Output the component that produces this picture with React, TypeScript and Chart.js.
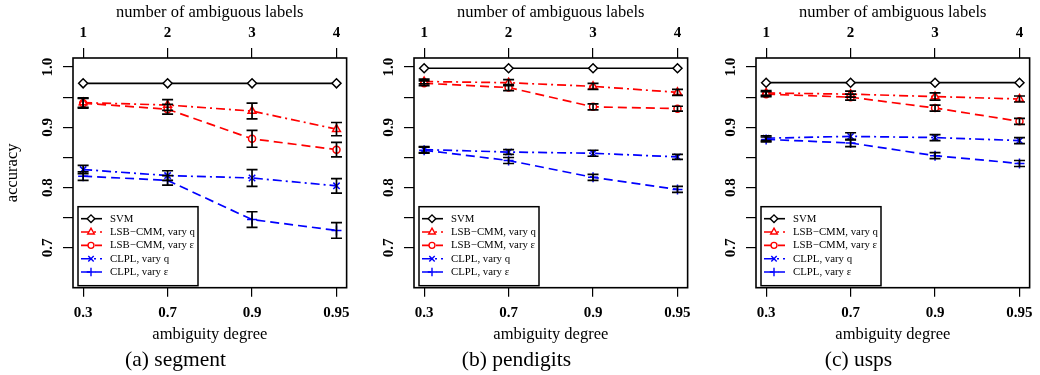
import React, { useEffect, useRef } from 'react';
import { Chart, registerables } from 'chart.js';
import { drawPoint } from 'chart.js/helpers';

Chart.register(...registerables);

const SERIF = '"Liberation Serif", "Times New Roman", serif';
Chart.defaults.font.family = SERIF;
Chart.defaults.color = '#000';

// ---- categories / tick labels ----
const degreeLabels = ['0.3', '0.7', '0.9', '0.95'];
const ambiguousLabels = ['1', '2', '3', '4'];
const yTickValues = [0.7, 0.75, 0.8, 0.85, 0.9, 0.95, 1.0];
const seriesNames = ['SVM', 'LSB\u2212CMM, vary q', 'LSB\u2212CMM, vary \u03b5', 'CLPL, vary q', 'CLPL, vary \u03b5'];
const captions = ['(a) segment', '(b) pendigits', '(c) usps'];

// ---- (a) segment ----
const segSvm = [0.973, 0.973, 0.973, 0.973];
const segLsbQ = [0.941, 0.937, 0.927, 0.897];
const segLsbE = [0.94, 0.93, 0.881, 0.863];
const segClplQ = [0.83, 0.82, 0.816, 0.803];
const segClplE = [0.819, 0.812, 0.747, 0.729];
const segLsbQErr = [0.008, 0.009, 0.013, 0.011];
const segLsbEErr = [0.008, 0.008, 0.014, 0.012];
const segClplQErr = [0.007, 0.008, 0.014, 0.012];
const segClplEErr = [0.007, 0.008, 0.013, 0.013];

// ---- (b) pendigits ----
const penSvm = [0.998, 0.998, 0.998, 0.998];
const penLsbQ = [0.976, 0.974, 0.968, 0.958];
const penLsbE = [0.973, 0.966, 0.934, 0.931];
const penClplQ = [0.863, 0.859, 0.857, 0.851];
const penClplE = [0.862, 0.845, 0.817, 0.797];
const penLsbQErr = [0.004, 0.005, 0.005, 0.005];
const penLsbEErr = [0.004, 0.005, 0.005, 0.004];
const penClplQErr = [0.005, 0.004, 0.005, 0.004];
const penClplEErr = [0.005, 0.005, 0.005, 0.005];

// ---- (c) usps ----
const uspSvm = [0.974, 0.974, 0.974, 0.974];
const uspLsbQ = [0.957, 0.955, 0.951, 0.947];
const uspLsbE = [0.955, 0.95, 0.932, 0.91];
const uspClplQ = [0.882, 0.885, 0.883, 0.878];
const uspClplE = [0.88, 0.874, 0.853, 0.84];
const uspLsbQErr = [0.004, 0.005, 0.006, 0.005];
const uspLsbEErr = [0.004, 0.005, 0.005, 0.005];
const uspClplQErr = [0.004, 0.006, 0.005, 0.005];
const uspClplEErr = [0.004, 0.006, 0.005, 0.005];

const noErr = [0, 0, 0, 0];

const panelValues = [
  [segSvm, segLsbQ, segLsbE, segClplQ, segClplE],
  [penSvm, penLsbQ, penLsbE, penClplQ, penClplE],
  [uspSvm, uspLsbQ, uspLsbE, uspClplQ, uspClplE],
];
const panelErrors = [
  [noErr, segLsbQErr, segLsbEErr, segClplQErr, segClplEErr],
  [noErr, penLsbQErr, penLsbEErr, penClplQErr, penClplEErr],
  [noErr, uspLsbQErr, uspLsbEErr, uspClplQErr, uspClplEErr],
];

const DASHED = [9, 5];
const DASHDOT = [9, 4, 2, 4];
const seriesStyles = [
  { color: '#000000', dash: [] as number[], point: 'rectRot', radius: 4.5 },
  { color: '#ff0000', dash: DASHDOT, point: 'triangle', radius: 4.5 },
  { color: '#ff0000', dash: DASHED, point: 'circle', radius: 3.5 },
  { color: '#0000ff', dash: DASHDOT, point: 'crossRot', radius: 4.5 },
  { color: '#0000ff', dash: DASHED, point: 'cross', radius: 5 },
];

const CANVAS_W = 357;
const CANVAS_H = 375;
const panelLeft = [0, 341, 683];

const X_MIN = 1 - 0.12;
const X_MAX = 4 + 0.12;
const Y_MIN = 0.634;
const Y_MAX = 1.015;

const decorPlugin = {
  id: 'decor',
  afterDatasetsDraw(chart: any) {
    const ctx = chart.ctx;
    const ys = chart.scales.y;
    chart.data.datasets.forEach((ds: any, di: number) => {
      const meta = chart.getDatasetMeta(di);
      meta.data.forEach((pt: any, i: number) => {
        const e = ds.errors[i];
        if (!e) return;
        const v = ds.data[i].y;
        const y1 = ys.getPixelForValue(v + e);
        const y2 = ys.getPixelForValue(v - e);
        ctx.save();
        ctx.strokeStyle = '#000';
        ctx.lineWidth = 1.7;
        ctx.setLineDash([]);
        ctx.beginPath();
        ctx.moveTo(pt.x, y1);
        ctx.lineTo(pt.x, y2);
        ctx.moveTo(pt.x - 5.5, y1);
        ctx.lineTo(pt.x + 5.5, y1);
        ctx.moveTo(pt.x - 5.5, y2);
        ctx.lineTo(pt.x + 5.5, y2);
        ctx.stroke();
        ctx.restore();
      });
    });
  },
  afterDraw(chart: any) {
    const { ctx, chartArea: ca } = chart;
    ctx.save();
    ctx.setLineDash([]);
    ctx.strokeStyle = '#000';
    ctx.lineWidth = 1.6;
    ctx.strokeRect(ca.left, ca.top, ca.right - ca.left, ca.bottom - ca.top);

    // legend box, bottom-left inside plot
    const bx = ca.left + 5;
    const by = ca.bottom - 81;
    const bw = 120;
    const bh = 79;
    ctx.fillStyle = '#fff';
    ctx.fillRect(bx, by, bw, bh);
    ctx.lineWidth = 1.5;
    ctx.strokeRect(bx, by, bw, bh);
    chart.data.datasets.forEach((ds: any, i: number) => {
      const y = by + 12 + i * 13.33;
      ctx.strokeStyle = ds.borderColor;
      ctx.lineWidth = 1.6;
      ctx.setLineDash(ds.borderDash || []);
      ctx.beginPath();
      ctx.moveTo(bx + 3, y);
      ctx.lineTo(bx + 24, y);
      ctx.stroke();
      ctx.setLineDash([]);
      ctx.fillStyle = '#fff';
      ctx.strokeStyle = ds.borderColor;
      ctx.lineWidth = 1.4;
      drawPoint(ctx, { pointStyle: ds.pointStyle, radius: ds.pointRadius * 0.85, borderWidth: 1.4, rotation: 0 } as any, bx + 13, y);
      ctx.fillStyle = '#000';
      ctx.font = '10.8px ' + SERIF;
      ctx.textBaseline = 'middle';
      ctx.textAlign = 'left';
      ctx.fillText(ds.label, bx + 32, y);
    });
    ctx.restore();
  },
};

function tickGrid(len: number) {
  return { display: true, drawOnChartArea: false, drawTicks: true, tickLength: len, color: '#000', lineWidth: 1.2 };
}

function makeConfig(idx: number): any {
  const values = panelValues[idx];
  const errors = panelErrors[idx];
  const datasets = seriesNames.map((name, s) => {
    const st = seriesStyles[s];
    return {
      label: name,
      data: values[s].map((v, i) => ({ x: i + 1, y: v })),
      errors: errors[s],
      borderColor: st.color,
      backgroundColor: st.color,
      borderDash: st.dash,
      borderWidth: 1.7,
      tension: 0,
      pointStyle: st.point,
      pointRadius: st.radius,
      pointBackgroundColor: '#fff',
      pointBorderColor: st.color,
      pointBorderWidth: 1.5,
    };
  });
  return {
    type: 'line',
    data: { datasets },
    plugins: [decorPlugin],
    options: {
      animation: false,
      responsive: false,
      events: [],
      layout: { padding: { left: 0, right: 6, top: 0, bottom: 0 } },
      plugins: {
        legend: { display: false },
        tooltip: { enabled: false },
        title: {
          display: true,
          text: captions[idx],
          position: 'bottom',
          color: '#000',
          font: { family: SERIF, size: 21.5, weight: 'normal' },
          padding: { top: 0, bottom: 1.5 },
        },
      },
      scales: {
        x: {
          type: 'linear',
          position: 'bottom',
          min: X_MIN,
          max: X_MAX,
          afterBuildTicks: (s: any) => {
            s.ticks = degreeLabels.map((_, i) => ({ value: i + 1 }));
          },
          ticks: {
            autoSkip: false,
            maxRotation: 0,
            padding: 7,
            color: '#000',
            font: { family: SERIF, size: 15, weight: 'bold' },
            callback: (v: number) => degreeLabels[Math.round(v) - 1] ?? '',
          },
          grid: tickGrid(9),
          border: { display: false },
          title: {
            display: true,
            text: 'ambiguity degree',
            color: '#000',
            font: { family: SERIF, size: 16.5, weight: 'normal' },
            padding: { top: 0, bottom: 3 },
          },
          afterFit: (s: any) => {
            s.height = 60;
          },
        },
        x2: {
          type: 'linear',
          position: 'top',
          min: X_MIN,
          max: X_MAX,
          afterBuildTicks: (s: any) => {
            s.ticks = ambiguousLabels.map((_, i) => ({ value: i + 1 }));
          },
          ticks: {
            autoSkip: false,
            maxRotation: 0,
            padding: 6,
            color: '#000',
            font: { family: SERIF, size: 15, weight: 'bold' },
            callback: (v: number) => ambiguousLabels[Math.round(v) - 1] ?? '',
          },
          grid: tickGrid(10),
          border: { display: false },
          title: {
            display: true,
            text: 'number of ambiguous labels',
            color: '#000',
            font: { family: SERIF, size: 16.5, weight: 'normal' },
            padding: { top: 3, bottom: 0 },
          },
          afterFit: (s: any) => {
            s.height = 58;
          },
        },
        y: {
          type: 'linear',
          position: 'left',
          min: Y_MIN,
          max: Y_MAX,
          afterBuildTicks: (s: any) => {
            s.ticks = yTickValues.map((v) => ({ value: v }));
          },
          ticks: {
            autoSkip: false,
            minRotation: 90,
            maxRotation: 90,
            crossAlign: 'center',
            padding: 5.5,
            color: '#000',
            font: { family: SERIF, size: 15, weight: 'bold' },
            callback: (v: number) => (Math.abs(v * 10 - Math.round(v * 10)) < 1e-6 ? v.toFixed(1) : ''),
          },
          grid: tickGrid(10),
          border: { display: false },
          title: {
            display: idx === 0,
            text: 'accuracy',
            color: '#000',
            font: { family: SERIF, size: 16.5, weight: 'normal' },
            padding: { top: 3.2, bottom: 0 },
          },
          afterFit: (s: any) => {
            s.width = 73;
          },
        },
      },
    },
  };
}

function Panel({ idx }: { idx: number }) {
  const ref = useRef<HTMLCanvasElement | null>(null);
  useEffect(() => {
    if (!ref.current) return;
    const chart = new Chart(ref.current, makeConfig(idx));
    return () => chart.destroy();
  }, [idx]);
  return (
    <canvas
      ref={ref}
      width={CANVAS_W}
      height={CANVAS_H}
      style={{ position: 'absolute', left: panelLeft[idx], top: 0, width: CANVAS_W, height: CANVAS_H }}
    />
  );
}

export default function App() {
  return (
    <div style={{ position: 'absolute', left: 0, top: 0, width: 1040, height: 375, background: '#fff', overflow: 'hidden' }}>
      <Panel idx={0} />
      <Panel idx={1} />
      <Panel idx={2} />
    </div>
  );
}
